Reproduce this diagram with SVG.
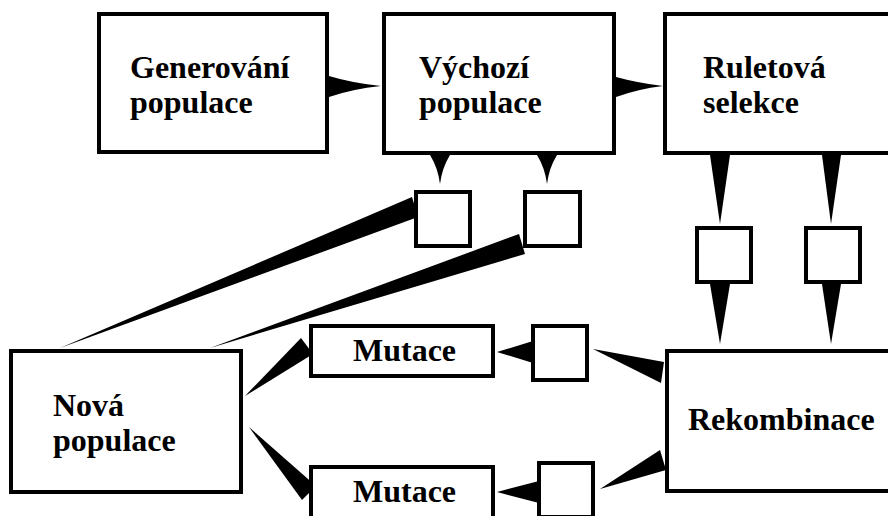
<svg xmlns="http://www.w3.org/2000/svg" width="888" height="516" viewBox="0 0 888 516">
<style>
.box{fill:#fff;stroke:#000;stroke-width:4}
.t{font-family:"Liberation Serif","Times New Roman",serif;font-weight:bold;font-size:32px;fill:#000}
.w{fill:#000;stroke:none}
</style>
<rect x="0" y="0" width="888" height="516" fill="#fff"/>
<g id="connectors">
<path class="w" d="M329,76 Q352,83 381,86 Q352,89 329,97 Z"/>
<path class="w" d="M616,77 Q638,83 663,86 Q638,89 616,97 Z"/>
<path class="w" d="M430,155 Q438,168 440,184 Q442,168 450,155 Z"/>
<path class="w" d="M537,155 Q545,168 547,184 Q549,168 557,155 Z"/>
<path class="w" d="M710,155 L730,155 L720,224 Z"/>
<path class="w" d="M822,155 L841,155 L831,224 Z"/>
<path class="w" d="M710,284 L730,284 L720,344 Z"/>
<path class="w" d="M822,284 L841,284 L831,344 Z"/>
<path class="w" d="M412,197 L418,217 L60,348 Z"/>
<path class="w" d="M519,234 L525,254 L210,348 Z"/>
<path class="w" d="M664,362 L661,383 L593,349 Z"/>
<path class="w" d="M660,450 L666,470 L600,489 Z"/>
<path class="w" d="M533,341 L533,363 L497,352 Z"/>
<path class="w" d="M539,481 L539,503 L497,492 Z"/>
<path class="w" d="M301,338 L313,354 L245,396 Z"/>
<path class="w" d="M302,500 L316,486 L249,427 Z"/>
</g>
<g id="generovani">
<rect class="box" x="99" y="14" width="228" height="138"/>
<text class="t" x="130" y="78">Generování</text>
<text class="t" x="130" y="113">populace</text>
</g>
<g id="vychozi">
<rect class="box" x="384" y="14" width="230" height="139"/>
<text class="t" x="419" y="78">Výchozí</text>
<text class="t" x="419" y="113">populace</text>
</g>
<g id="ruletova">
<rect class="box" x="665" y="14" width="260" height="139"/>
<text class="t" x="703" y="78">Ruletová</text>
<text class="t" x="703" y="113">selekce</text>
</g>
<g id="sq1"><rect class="box" x="416" y="192" width="54" height="54"/></g>
<g id="sq2"><rect class="box" x="525" y="192" width="55" height="54"/></g>
<g id="sq3"><rect class="box" x="697" y="228" width="54" height="54"/></g>
<g id="sq4"><rect class="box" x="806" y="228" width="54" height="54"/></g>
<g id="sq5"><rect class="box" x="533" y="326" width="54" height="54"/></g>
<g id="sq6"><rect class="box" x="539" y="463" width="54" height="54"/></g>
<g id="nova">
<rect class="box" x="11" y="351" width="230" height="141"/>
<text class="t" x="53" y="416">Nová</text>
<text class="t" x="53" y="451">populace</text>
</g>
<g id="mutace1">
<rect class="box" x="311" y="326" width="182" height="50"/>
<text class="t" x="353" y="361">Mutace</text>
</g>
<g id="mutace2">
<rect class="box" x="311" y="467" width="182" height="60"/>
<text class="t" x="353" y="502">Mutace</text>
</g>
<g id="rekombinace">
<rect class="box" x="667" y="351" width="260" height="140"/>
<text class="t" x="688" y="430">Rekombinace</text>
</g>
</svg>
